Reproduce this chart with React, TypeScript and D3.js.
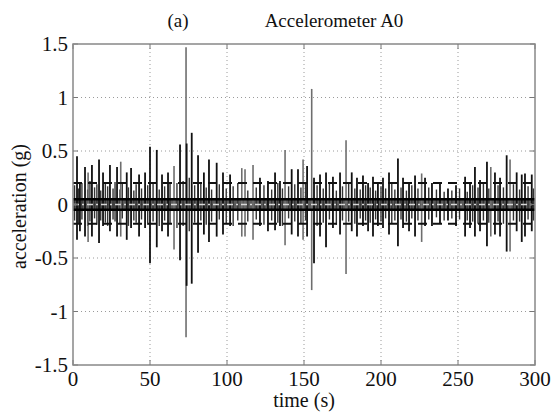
import React from "react";
import * as d3 from "d3";

// ---- data ----
const xTicks = [0, 50, 100, 150, 200, 250, 300];
const yTicks = [-1.5, -1, -0.5, 0, 0.5, 1, 1.5];
const yTickLabels = ["-1.5", "-1", "-0.5", "0", "0.5", "1", "1.5"];

// dark spikes: time (s), max, min (g)
const blackT = [2.6, 4.5, 7.8, 12.3, 16.9, 19.5, 24, 28.6, 34.9, 37.7, 42.9, 46.8, 50, 54.4, 57.8, 61.7, 69.5, 73.8, 77.1, 81.2, 85, 88.3, 93.3, 97.4, 102, 121.4, 126.6, 131.2, 134.4, 142, 146.1, 152, 156.5, 160.4, 164.3, 168.8, 173.4, 181, 184.4, 188.3, 191.6, 194.8, 198, 201.3, 205.2, 211, 214.3, 218.2, 222.1, 228.6, 233.1, 238.3, 243.5, 248.7, 254.6, 257.8, 261, 264.3, 268.8, 274, 277.3, 281.6, 288.1, 291.4, 293.5, 297.9];
const blackHi = [0.45, 0.2, 0.35, 0.37, 0.42, 0.3, 0.37, 0.35, 0.3, 0.34, 0.28, 0.3, 0.54, 0.51, 0.28, 0.3, 0.56, 0.57, 0.67, 0.46, 0.3, 0.42, 0.39, 0.3, 0.28, 0.25, 0.22, 0.3, 0.22, 0.33, 0.33, 0.36, 0.25, 0.28, 0.3, 0.26, 0.3, 0.3, 0.25, 0.27, 0.2, 0.26, 0.2, 0.25, 0.3, 0.43, 0.25, 0.2, 0.27, 0.25, 0.2, 0.2, 0.15, 0.18, 0.26, 0.2, 0.35, 0.23, 0.4, 0.3, 0.25, 0.46, 0.3, 0.28, 0.29, 0.28];
const blackLo = [-0.33, -0.25, -0.3, -0.3, -0.36, -0.2, -0.25, -0.3, -0.33, -0.22, -0.3, -0.22, -0.55, -0.4, -0.25, -0.3, -0.52, -0.76, -0.74, -0.45, -0.28, -0.35, -0.3, -0.28, -0.2, -0.2, -0.25, -0.24, -0.2, -0.28, -0.3, -0.3, -0.55, -0.3, -0.4, -0.22, -0.28, -0.25, -0.3, -0.2, -0.25, -0.3, -0.2, -0.22, -0.28, -0.39, -0.22, -0.25, -0.3, -0.2, -0.2, -0.18, -0.15, -0.2, -0.3, -0.22, -0.3, -0.25, -0.39, -0.28, -0.3, -0.44, -0.25, -0.35, -0.3, -0.25];

// lighter spikes: time (s), max, min (g)
const grayT = [9.8, 31, 65.6, 73.4, 109.6, 111.7, 116.9, 137.7, 149.4, 155, 177.3, 226.4, 271.3, 283.8];
const grayHi = [0.3, 0.4, 0.36, 1.47, 0.34, 0.33, 0.37, 0.51, 0.42, 1.08, 0.6, 0.29, 0.35, 0.42];
const grayLo = [-0.35, -0.3, -0.42, -1.24, -0.3, -0.3, -0.33, -0.38, -0.33, -0.8, -0.65, -0.35, -0.3, -0.44];

// dense low-level activity
const smallT = [1, 3.5, 5.8, 9.5, 11, 14, 15.5, 18, 21, 22.5, 26, 27.3, 30.5, 32, 36, 39.5, 41, 44.5, 48.5, 52, 56, 59.5, 63, 67.5, 71.5, 75.5, 79, 83, 86.5, 90, 95, 99.5, 104, 107, 113.5, 119, 124, 129, 133, 136, 140, 144, 148, 151, 158.5, 162.5, 166.5, 171, 175, 179, 183, 186.5, 190, 193, 196.5, 200, 203, 207, 209, 213, 216.5, 220, 224, 231, 236, 241, 246, 251, 256, 259.5, 263, 266.5, 270, 276, 279.5, 286, 290, 295.5, 299];
const smallHi = [0.18, 0.15, 0.2, 0.14, 0.22, 0.16, 0.19, 0.13, 0.2, 0.17, 0.15, 0.21, 0.14, 0.2, 0.16, 0.13, 0.19, 0.15, 0.18, 0.2, 0.14, 0.17, 0.21, 0.2, 0.22, 0.25, 0.18, 0.2, 0.16, 0.14, 0.19, 0.15, 0.17, 0.2, 0.13, 0.16, 0.18, 0.14, 0.2, 0.15, 0.17, 0.19, 0.16, 0.2, 0.18, 0.15, 0.2, 0.13, 0.17, 0.2, 0.15, 0.14, 0.18, 0.16, 0.13, 0.17, 0.15, 0.2, 0.14, 0.16, 0.13, 0.18, 0.15, 0.16, 0.14, 0.12, 0.13, 0.15, 0.12, 0.18, 0.16, 0.2, 0.15, 0.18, 0.16, 0.19, 0.14, 0.17, 0.15];
const smallLo = [-0.15, -0.18, -0.14, -0.2, -0.16, -0.13, -0.19, -0.15, -0.17, -0.2, -0.14, -0.16, -0.18, -0.13, -0.2, -0.15, -0.17, -0.14, -0.19, -0.16, -0.2, -0.15, -0.18, -0.22, -0.2, -0.25, -0.17, -0.15, -0.19, -0.16, -0.14, -0.18, -0.2, -0.15, -0.16, -0.14, -0.19, -0.15, -0.17, -0.2, -0.13, -0.16, -0.18, -0.15, -0.2, -0.17, -0.14, -0.19, -0.15, -0.16, -0.18, -0.13, -0.15, -0.17, -0.14, -0.16, -0.13, -0.18, -0.15, -0.14, -0.16, -0.13, -0.15, -0.14, -0.12, -0.15, -0.13, -0.14, -0.15, -0.16, -0.18, -0.15, -0.17, -0.16, -0.18, -0.15, -0.16, -0.14, -0.15];

// threshold / reference lines (g)
const dashedLevels = [0.2, -0.18];
const solidLevels = [0.05, -0.05];
const centerLevel = 0;

const W = 553;
const H = 412;
const M = { left: 73, right: 535, top: 44, bottom: 365 };
const FONT = "'Liberation Serif', 'DejaVu Serif', serif";

export default function App() {
  const x = d3.scaleLinear().domain([0, 300]).range([M.left, M.right]);
  const y = d3.scaleLinear().domain([-1.5, 1.5]).range([M.bottom, M.top]);

  const spikes = (ts: number[], hi: number[], lo: number[]) =>
    ts.map((t, i) => ({ t, hi: hi[i], lo: lo[i] }));

  const tickLen = 5;

  return (
    <svg
      width={W}
      height={H}
      style={{ position: "absolute", left: 0, top: 0, background: "#fff" }}
      fontFamily={FONT}
    >
      <rect x={0} y={0} width={W} height={H} fill="#fff" />
      {/* grid */}
      {xTicks.slice(1, -1).map((v) => (
        <line
          key={"gx" + v}
          x1={x(v)}
          x2={x(v)}
          y1={y(1.5)}
          y2={y(-1.5)}
          stroke="#9a9a9a"
          strokeWidth={1}
          strokeDasharray="1,3"
        />
      ))}
      {yTicks.slice(1, -1).map((v) => (
        <line
          key={"gy" + v}
          x1={x(0)}
          x2={x(300)}
          y1={y(v)}
          y2={y(v)}
          stroke="#9a9a9a"
          strokeWidth={1}
          strokeDasharray="1,3"
        />
      ))}

      {/* central band */}
      <rect
        x={x(0)}
        y={y(solidLevels[0])}
        width={x(300) - x(0)}
        height={y(solidLevels[1]) - y(solidLevels[0])}
        fill="#5a5a5a"
      />

      {/* low-level activity */}
      {spikes(smallT, smallHi, smallLo).map((d, i) => (
        <line
          key={"s" + i}
          x1={x(d.t)}
          x2={x(d.t)}
          y1={y(d.hi)}
          y2={y(d.lo)}
          stroke="#333"
          strokeWidth={1.4}
        />
      ))}
      {/* lighter spikes */}
      {spikes(grayT, grayHi, grayLo).map((d, i) => (
        <line
          key={"g" + i}
          x1={x(d.t)}
          x2={x(d.t)}
          y1={y(d.hi)}
          y2={y(d.lo)}
          stroke="#6e6e6e"
          strokeWidth={1.6}
        />
      ))}
      {/* dark spikes */}
      {spikes(blackT, blackHi, blackLo).map((d, i) => (
        <line
          key={"b" + i}
          x1={x(d.t)}
          x2={x(d.t)}
          y1={y(d.hi)}
          y2={y(d.lo)}
          stroke="#111"
          strokeWidth={1.8}
        />
      ))}

      {/* reference lines */}
      {dashedLevels.map((v) => (
        <line
          key={"d" + v}
          x1={x(0)}
          x2={x(300)}
          y1={y(v)}
          y2={y(v)}
          stroke="#111"
          strokeWidth={2}
          strokeDasharray="9,6"
        />
      ))}
      {solidLevels.map((v) => (
        <line
          key={"l" + v}
          x1={x(0)}
          x2={x(300)}
          y1={y(v)}
          y2={y(v)}
          stroke="#000"
          strokeWidth={2.5}
        />
      ))}
      <line
        x1={x(0)}
        x2={x(300)}
        y1={y(centerLevel)}
        y2={y(centerLevel)}
        stroke="#d8d8d8"
        strokeWidth={1.5}
        strokeDasharray="6,3,2,3"
      />

      {/* ticks */}
      {xTicks.map((v) => (
        <g key={"tx" + v}>
          <line x1={x(v)} x2={x(v)} y1={y(-1.5)} y2={y(-1.5) - tickLen} stroke="#777" />
          <line x1={x(v)} x2={x(v)} y1={y(1.5)} y2={y(1.5) + tickLen} stroke="#777" />
          <text
            x={x(v)}
            y={386}
            textAnchor="middle"
            fontSize={21}
            fill="#111"
          >
            {v}
          </text>
        </g>
      ))}
      {yTicks.map((v, i) => (
        <g key={"ty" + v}>
          <line x1={x(0)} x2={x(0) + tickLen} y1={y(v)} y2={y(v)} stroke="#777" />
          <line x1={x(300)} x2={x(300) - tickLen} y1={y(v)} y2={y(v)} stroke="#777" />
          <text
            x={68}
            y={y(v) + 7}
            textAnchor="end"
            fontSize={21}
            fill="#111"
          >
            {yTickLabels[i]}
          </text>
        </g>
      ))}

      {/* box */}
      <rect
        x={x(0)}
        y={y(1.5)}
        width={x(300) - x(0)}
        height={y(-1.5) - y(1.5)}
        fill="none"
        stroke="#888"
        strokeWidth={1.5}
      />

      {/* titles */}
      <text x={178} y={27} textAnchor="middle" fontSize={19} fill="#111">
        (a)
      </text>
      <text x={334} y={27} textAnchor="middle" fontSize={19} fill="#111">
        Accelerometer A0
      </text>
      <text x={304} y={407} textAnchor="middle" fontSize={20} fill="#111">
        time (s)
      </text>
      <text
        transform={`translate(26,${(y(1.5) + y(-1.5)) / 2 + 2}) rotate(-90)`}
        textAnchor="middle"
        fontSize={20}
        fill="#111"
      >
        acceleration (g)
      </text>
    </svg>
  );
}
